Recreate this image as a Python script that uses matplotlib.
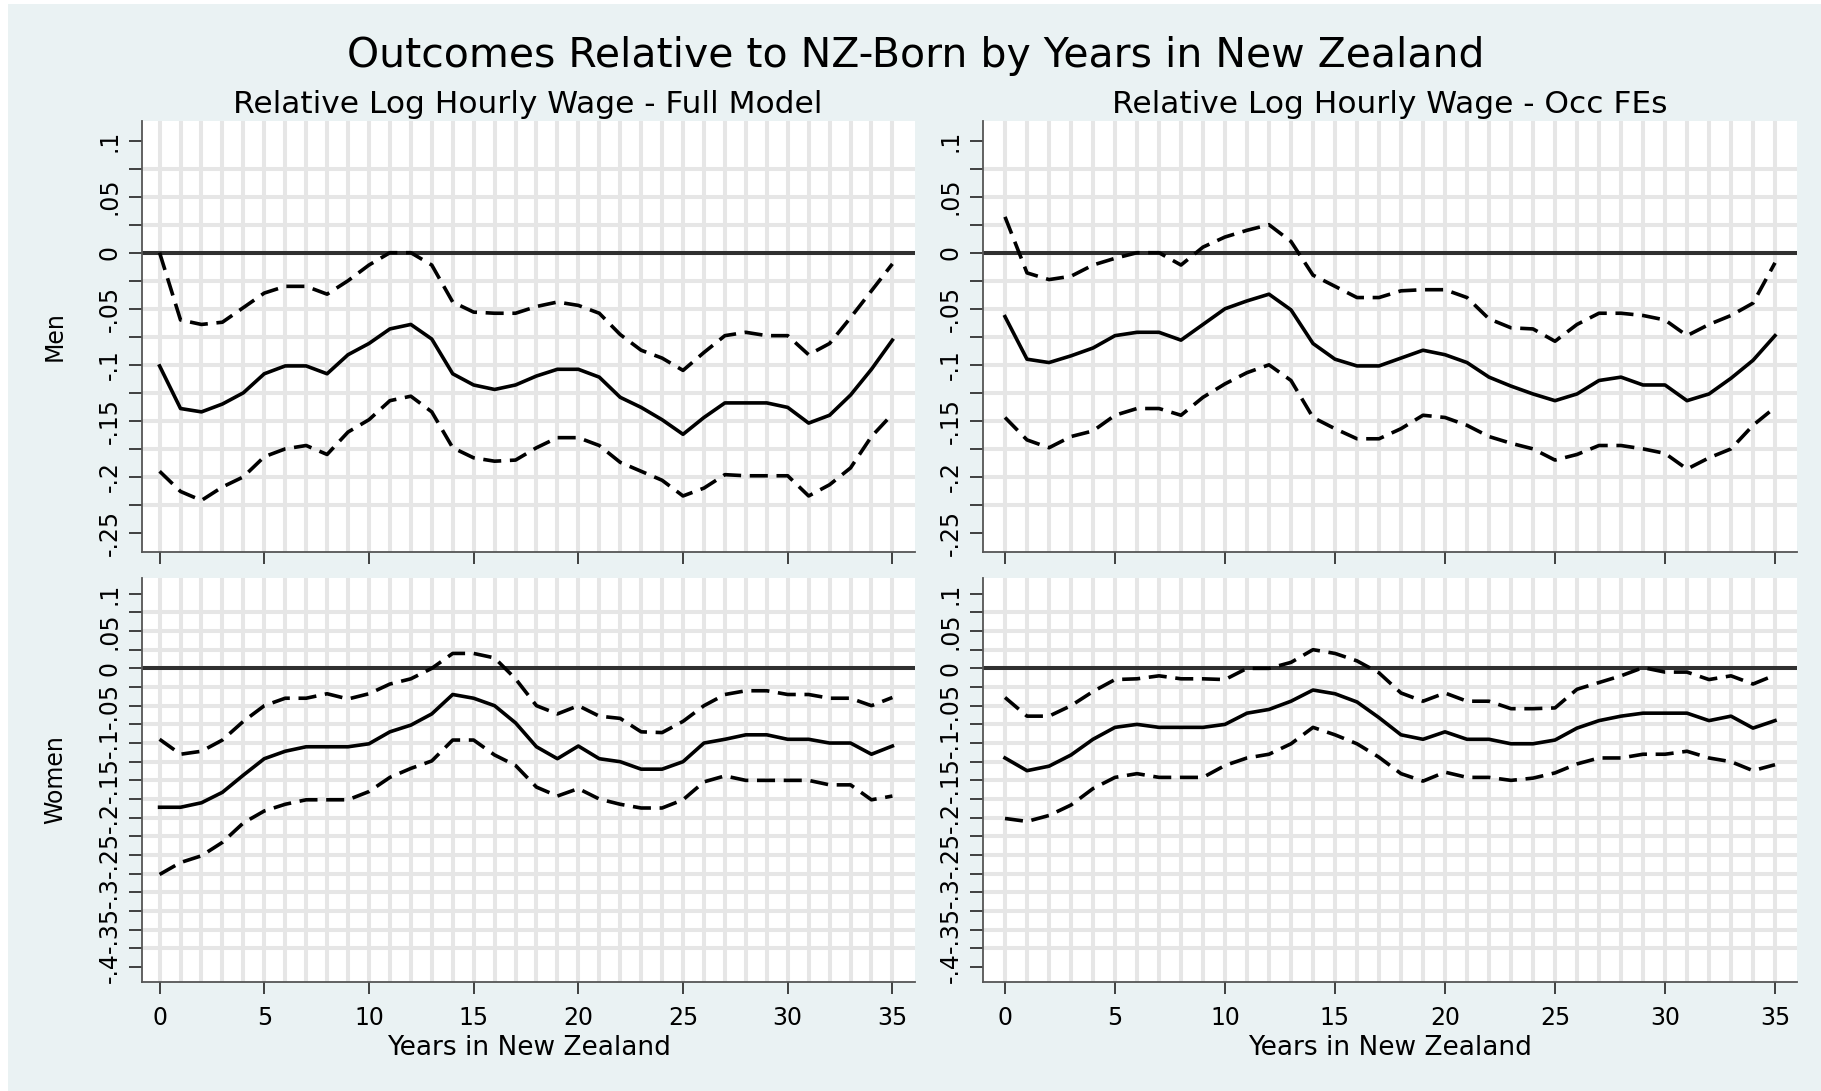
import matplotlib
matplotlib.use("Agg")
import matplotlib.pyplot as plt
from matplotlib.patches import Rectangle

plt.rcParams["font.family"] = ["DejaVu Sans"]

# Data: years since arrival and estimates with 95% bounds
years = list(range(36))

men_full_coef = [-0.101, -0.139, -0.142, -0.135, -0.125, -0.108, -0.101, -0.101, -0.108, -0.091,
                 -0.081, -0.068, -0.064, -0.077, -0.108, -0.118, -0.122, -0.118, -0.110, -0.104,
                 -0.104, -0.111, -0.129, -0.138, -0.149, -0.162, -0.147, -0.134, -0.134, -0.134,
                 -0.138, -0.152, -0.145, -0.127, -0.104, -0.078]
men_full_hi = [0.0, -0.060, -0.064, -0.062, -0.049, -0.036, -0.030, -0.030, -0.037, -0.025,
               -0.011, 0.0, 0.0, -0.011, -0.044, -0.053, -0.054, -0.054, -0.048, -0.044,
               -0.047, -0.054, -0.073, -0.087, -0.094, -0.105, -0.089, -0.074, -0.071, -0.074,
               -0.074, -0.091, -0.081, -0.058, -0.034, -0.010]
men_full_lo = [-0.195, -0.213, -0.221, -0.209, -0.200, -0.182, -0.175, -0.172, -0.180, -0.160,
               -0.149, -0.132, -0.128, -0.142, -0.174, -0.183, -0.186, -0.185, -0.174, -0.165,
               -0.165, -0.172, -0.187, -0.195, -0.203, -0.217, -0.210, -0.198, -0.199, -0.199,
               -0.199, -0.217, -0.207, -0.192, -0.164, -0.144]

men_occ_coef = [-0.057, -0.095, -0.098, -0.092, -0.085, -0.074, -0.071, -0.071, -0.078, -0.064,
                -0.050, -0.043, -0.037, -0.051, -0.081, -0.095, -0.101, -0.101, -0.094, -0.087,
                -0.091, -0.098, -0.111, -0.119, -0.126, -0.132, -0.126, -0.114, -0.111, -0.118,
                -0.118, -0.132, -0.126, -0.112, -0.096, -0.074]
men_occ_hi = [0.032, -0.018, -0.024, -0.021, -0.011, -0.005, 0.0, 0.0, -0.011, 0.005,
              0.014, 0.020, 0.025, 0.010, -0.020, -0.030, -0.040, -0.040, -0.034, -0.033,
              -0.033, -0.040, -0.059, -0.067, -0.068, -0.079, -0.064, -0.054, -0.054, -0.056,
              -0.060, -0.074, -0.064, -0.056, -0.045, -0.009]
men_occ_lo = [-0.147, -0.167, -0.174, -0.164, -0.159, -0.145, -0.139, -0.139, -0.145, -0.129,
              -0.117, -0.107, -0.100, -0.114, -0.147, -0.157, -0.166, -0.166, -0.157, -0.145,
              -0.147, -0.154, -0.164, -0.170, -0.175, -0.185, -0.180, -0.172, -0.172, -0.175,
              -0.179, -0.193, -0.183, -0.175, -0.154, -0.138]

women_full_coef = [-0.186, -0.186, -0.180, -0.166, -0.143, -0.121, -0.111, -0.105, -0.105, -0.105,
                   -0.101, -0.085, -0.076, -0.061, -0.035, -0.040, -0.050, -0.073, -0.105, -0.121,
                   -0.104, -0.121, -0.125, -0.135, -0.135, -0.125, -0.100, -0.095, -0.089, -0.089,
                   -0.095, -0.095, -0.100, -0.100, -0.115, -0.104]
women_full_hi = [-0.095, -0.115, -0.111, -0.096, -0.071, -0.050, -0.040, -0.040, -0.034, -0.041,
                 -0.034, -0.021, -0.014, 0.0, 0.020, 0.020, 0.014, -0.014, -0.050, -0.061,
                 -0.050, -0.064, -0.067, -0.085, -0.086, -0.071, -0.050, -0.035, -0.030, -0.030,
                 -0.035, -0.035, -0.040, -0.040, -0.050, -0.039]
women_full_lo = [-0.276, -0.260, -0.251, -0.233, -0.207, -0.191, -0.182, -0.176, -0.176, -0.176,
                 -0.165, -0.146, -0.134, -0.124, -0.096, -0.096, -0.116, -0.130, -0.159, -0.171,
                 -0.161, -0.175, -0.182, -0.187, -0.187, -0.176, -0.152, -0.144, -0.150, -0.150,
                 -0.150, -0.150, -0.156, -0.156, -0.176, -0.171]

women_occ_coef = [-0.120, -0.137, -0.131, -0.116, -0.095, -0.079, -0.075, -0.079, -0.079, -0.079,
                  -0.075, -0.060, -0.055, -0.044, -0.029, -0.034, -0.045, -0.066, -0.089, -0.095,
                  -0.085, -0.095, -0.095, -0.101, -0.101, -0.096, -0.080, -0.070, -0.064, -0.060,
                  -0.060, -0.060, -0.070, -0.064, -0.080, -0.070]
women_occ_hi = [-0.039, -0.064, -0.064, -0.050, -0.031, -0.015, -0.014, -0.010, -0.014, -0.014,
                -0.015, 0.0, 0.0, 0.008, 0.025, 0.020, 0.010, -0.006, -0.033, -0.044,
                -0.033, -0.044, -0.044, -0.054, -0.054, -0.053, -0.028, -0.019, -0.010, 0.001,
                -0.005, -0.005, -0.015, -0.010, -0.021, -0.009]
women_occ_lo = [-0.201, -0.205, -0.197, -0.183, -0.161, -0.146, -0.141, -0.146, -0.146, -0.146,
                -0.130, -0.120, -0.115, -0.101, -0.079, -0.089, -0.101, -0.119, -0.141, -0.151,
                -0.139, -0.146, -0.146, -0.150, -0.147, -0.140, -0.128, -0.120, -0.120, -0.115,
                -0.115, -0.111, -0.120, -0.125, -0.137, -0.129]

xticks = [0, 5, 10, 15, 20, 25, 30, 35]
yticks_men = [0.1, 0.05, 0.0, -0.05, -0.1, -0.15, -0.2, -0.25]
ylabels_men = [".1", ".05", "0", "-.05", "-.1", "-.15", "-.2", "-.25"]
yticks_women = [0.1, 0.05, 0.0, -0.05, -0.1, -0.15, -0.2, -0.25, -0.3, -0.35, -0.4]
ylabels_women = [".1", ".05", "0", "-.05", "-.1", "-.15", "-.2", "-.25", "-.3", "-.35", "-.4"]

BG = "#eaf2f3"
GRID = "#e6e6e6"
W, H = 1821, 1091
DASH = (0, (5.0, 2.4))

fig = plt.figure(figsize=(W / 100, H / 100), dpi=100, facecolor="white")
fig.patches.append(Rectangle((8 / W, 0), 1 - 8 / W, 1 - 4 / H, transform=fig.transFigure,
                             facecolor=BG, edgecolor="none", zorder=-10))


def px_axes(x0, y0, x1, y1):
    return fig.add_axes([x0 / W, 1 - y1 / H, (x1 - x0) / W, (y1 - y0) / H])


def draw_panel(ax, coef, hi, lo, yticks, ylabels, ylim, xlim, bottom_row):
    ax.set_facecolor("white")
    ax.set_xlim(*xlim)
    ax.set_ylim(*ylim)
    # grid: every year, every .025 (not at the axis ends)
    for yr in years:
        ax.axvline(yr, color=GRID, lw=2.9, zorder=0)
    minor = [(a + b) / 2 for a, b in zip(yticks[:-1], yticks[1:])]
    for v in yticks[1:-1] + minor:
        ax.axhline(v, color=GRID, lw=2.9, zorder=0)
    ax.axhline(0, color="#303030", lw=2.9, zorder=1)

    ax.plot(years, coef, color="black", lw=2.6, zorder=3)
    ax.plot(years, hi, color="black", lw=2.6, ls=DASH, zorder=3)
    ax.plot(years, lo, color="black", lw=2.6, ls=DASH, zorder=3)

    ax.set_xticks(xticks)
    ax.set_xticklabels([str(t) for t in xticks] if bottom_row else [])
    ax.set_yticks(yticks)
    ax.set_yticklabels(ylabels, rotation=90, va="center")
    ax.set_yticks(minor, minor=True)
    ax.tick_params(axis="y", which="both", length=9.5, width=1.2, color="#222222",
                   labelsize=17, pad=5)
    ax.tick_params(axis="x", length=8.6, width=1.2, color="#222222", labelsize=17, pad=9)
    for s in ["top", "right"]:
        ax.spines[s].set_visible(False)
    for s in ["left", "bottom"]:
        ax.spines[s].set_color("#555555")
        ax.spines[s].set_linewidth(1.3)
    if bottom_row:
        ax.set_xlabel("Years in New Zealand", fontsize=19)
        ax.xaxis.set_label_coords(0.5, -0.13)


ylim_men = (-0.267, 0.1175)
ylim_women = (-0.42, 0.121)

ax1 = px_axes(142, 121, 915, 552)
draw_panel(ax1, men_full_coef, men_full_hi, men_full_lo, yticks_men, ylabels_men,
           ylim_men, (-0.84, 36.08), False)
ax1.set_ylabel("Men", fontsize=17)
ax1.yaxis.set_label_coords(-0.097, 0.5)

ax2 = px_axes(983, 121, 1797, 552)
draw_panel(ax2, men_occ_coef, men_occ_hi, men_occ_lo, yticks_men, ylabels_men,
           ylim_men, (-1.0, 36.0), False)

ax3 = px_axes(142, 578, 915, 982)
draw_panel(ax3, women_full_coef, women_full_hi, women_full_lo, yticks_women, ylabels_women,
           ylim_women, (-0.84, 36.08), True)
ax3.set_ylabel("Women", fontsize=17)
ax3.yaxis.set_label_coords(-0.097, 0.5)

ax4 = px_axes(983, 578, 1797, 982)
draw_panel(ax4, women_occ_coef, women_occ_hi, women_occ_lo, yticks_women, ylabels_women,
           ylim_women, (-1.0, 36.0), True)

fig.text(916 / W, 1 - 66.6 / H, "Outcomes Relative to NZ-Born by Years in New Zealand",
         ha="center", va="baseline", fontsize=29.5)
fig.text(528 / W, 1 - 112.8 / H, "Relative Log Hourly Wage - Full Model",
         ha="center", va="baseline", fontsize=22.5)
fig.text(1390 / W, 1 - 112.8 / H, "Relative Log Hourly Wage - Occ FEs",
         ha="center", va="baseline", fontsize=22.5)

fig.savefig("out.png", dpi=100, facecolor=fig.get_facecolor())
